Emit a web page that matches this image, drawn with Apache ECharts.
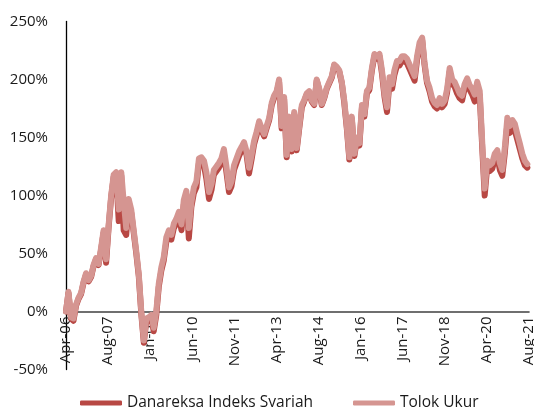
<!DOCTYPE html>
<html>
<head>
<meta charset="utf-8">
<script src="https://cdn.jsdelivr.net/npm/echarts@6/dist/echarts.min.js"></script>
<style>html,body{margin:0;padding:0;background:#fff}#c{width:534px;height:407px}</style>
</head>
<body>
<div id="c"></div>
<script>
// Monthly observations, Apr-2006 .. Aug-2021 (cumulative return, %)
const firstMonth = [2006, 4];
const monthCount = 185;
const tickLabels = ['Apr-06','Aug-07','Jan-09','Jun-10','Nov-11','Apr-13','Aug-14','Jan-16','Jun-17','Nov-18','Apr-20','Aug-21'];
const tickStartDate = '2006-04-05';
const tickStepDays = 511;

const tolokUkur = [
  0,17,-5,-6,6,12,16,26,33,27,
  31,40,46,41,55,70,45,75,100,118,
  120,88,120,95,72,97,88,70,52,32,
  0,-25,-6,-5,-3,-14,0,24,38,47,
  64,70,66,76,80,86,75,96,104,72,
  94,107,112,132,133,130,120,103,110,122,
  125,128,132,140,125,107,112,126,132,138,
  142,146,138,124,135,147,155,164,158,153,
  160,167,180,186,190,200,160,185,135,168,
  140,172,141,160,178,182,188,190,182,179,
  200,192,179,185,193,198,203,213,211,208,
  198,182,160,133,168,136,150,145,178,170,
  190,193,210,222,220,222,208,188,176,202,
  196,208,216,216,220,220,218,213,208,203,
  220,232,236,215,199,193,184,180,178,184,
  179,182,192,210,200,198,193,188,186,196,
  201,195,192,187,198,190,145,106,130,126,
  128,136,139,128,122,142,167,160,165,162,
  153,145,136,130,127
];
const danareksa = [
  0,16,-6,-8,5,11,15,25,32,26,
  30,39,45,40,53,68,42,73,98,116,
  118,78,117,70,66,94,85,68,50,30,
  -2,-27,-8,-8,-6,-17,-3,21,35,44,
  60,66,62,72,76,82,70,92,100,63,
  90,102,107,128,129,126,114,97,105,118,
  121,124,128,136,120,103,108,122,128,134,
  139,143,135,119,131,144,152,162,156,151,
  158,165,178,184,188,198,158,183,133,166,
  138,170,139,158,176,181,187,189,181,178,
  199,191,178,184,192,197,202,212,210,207,
  197,180,158,131,166,134,148,143,176,168,
  188,191,208,220,218,220,205,185,172,198,
  192,204,212,212,216,216,214,209,204,199,
  217,229,234,213,197,190,181,177,175,181,
  176,179,189,207,196,194,188,184,182,192,
  197,191,187,181,194,186,140,100,125,121,
  123,131,134,122,117,137,162,154,159,156,
  148,140,132,126,124
];

const DAY = 86400000;
const t0 = Date.parse(tickStartDate + 'T00:00:00Z');
const dayOffsets = [];
for (let i = 0; i < monthCount; i++) {
  const d = Date.UTC(firstMonth[0], firstMonth[1] - 1 + i, 5);
  dayOffsets.push(Math.round((d - t0) / DAY));
}
const pairs = arr => arr.map((v, i) => [dayOffsets[i], v]);

const yMin = -50, yMax = 250;
const gridTop = 21.5, gridBottom = 37.5, chartH = 407;
const plotH = chartH - gridTop - gridBottom;
const zeroShift = plotH * (0 - yMin) / (yMax - yMin);

const FONT = 'Open Sans';
const chart = echarts.init(document.getElementById('c'), null, {renderer: 'canvas'});
chart.setOption({
  animation: false,
  backgroundColor: '#ffffff',
  grid: {left: 66, right: 5, top: gridTop, bottom: gridBottom, containLabel: false, outerBoundsMode: 'none'},
  xAxis: {
    type: 'value',
    position: 'bottom',
    offset: -zeroShift,
    min: 0,
    max: tickStepDays * (tickLabels.length - 1),
    interval: tickStepDays,
    axisLine: {show: true, onZero: false, lineStyle: {color: '#404040', width: 1.6}},
    axisTick: {show: false},
    splitLine: {show: false},
    axisLabel: {
      rotate: 90, margin: 5, color: '#1a1a1a', fontFamily: FONT, fontSize: 15,
      showMinLabel: true, showMaxLabel: true, hideOverlap: false,
      formatter: v => tickLabels[Math.round(v / tickStepDays)] || ''
    }
  },
  yAxis: {
    type: 'value', min: yMin, max: yMax, interval: 50,
    axisLine: {show: true, onZero: false, lineStyle: {color: '#000', width: 1.3}},
    axisTick: {show: false},
    splitLine: {show: false},
    axisLabel: {formatter: '{value}%', color: '#1a1a1a', fontFamily: FONT, fontSize: 15, margin: 18}
  },
  legend: {
    left: 75, top: 390,
    itemWidth: 42, itemHeight: 5, itemGap: 40,
    textStyle: {fontFamily: FONT, fontSize: 15.5, color: '#1a1a1a'},
    data: [
      {name: 'Danareksa Indeks Syariah', icon: 'roundRect'},
      {name: 'Tolok Ukur', icon: 'roundRect'}
    ]
  },
  series: [
    {
      name: 'Danareksa Indeks Syariah', type: 'line', showSymbol: false,
      data: pairs(danareksa), color: '#b84844',
      lineStyle: {width: 6, color: '#b84844', cap: 'round', join: 'round'}
    },
    {
      name: 'Tolok Ukur', type: 'line', showSymbol: false,
      data: pairs(tolokUkur), color: '#d59591',
      lineStyle: {width: 6, color: '#d59591', cap: 'round', join: 'round'}
    }
  ]
});
</script>
</body>
</html>
